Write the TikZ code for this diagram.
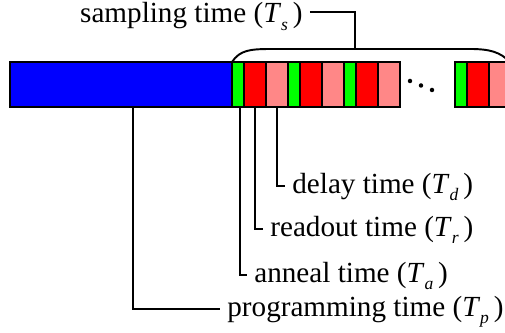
\documentclass[tikz,border=0pt]{standalone}
\usepackage{fontspec}
\setmainfont{Liberation Serif}
\usepackage{xcolor}
\usetikzlibrary{positioning}
\definecolor{progblue}{rgb}{0.0,0.0,1.0}
\definecolor{annealgreen}{rgb}{0.0,1.0,0.0}
\definecolor{readoutred}{rgb}{1.0,0.0,0.0}
\definecolor{delaypink}{rgb}{1.0,0.53,0.53}
\newcommand{\Tsub}[1]{\textit{T}\raisebox{-0.55ex}{\fontsize{10}{12}\selectfont\textit{#1}}\,}

\begin{document}
\begin{tikzpicture}[x=0.02cm,y=-0.02cm,
seg/.style={draw=black, line width=1pt, minimum height=0.9cm, inner sep=0pt, outer sep=0pt},
lbl/.style={font=\fontsize{16.6}{19}\selectfont, inner sep=4pt, text height=11.6pt, text depth=3pt},
wire/.style={line width=1.1pt}]
\clip (0,0) rectangle (505,333);
\node[seg, fill=progblue, minimum width=4.44cm, anchor=west] (prog) at (10,84.5) {};
\foreach \i/\x in {1/232,2/288,3/344,4/455} {
  \node[seg, fill=annealgreen, minimum width=0.24cm, anchor=west] (ann\i) at (\x,84.5) {};
  \node[seg, fill=readoutred, minimum width=0.44cm, right=0pt of ann\i] (rd\i) {};
  \node[seg, fill=delaypink, minimum width=0.44cm, right=0pt of rd\i] (dl\i) {};
}
\draw[line width=1.2pt] (prog.north west) rectangle (dl3.south east);
\foreach \d/\x/\y in {1/410/81,2/421/85.5,3/432/90} {
  \fill (\x,\y) circle (0.045cm) coordinate (dot\d);
}
\coordinate (braceL) at (ann1.north west);
\coordinate (braceR) at (510,62);
\coordinate (braceTop) at (355,49);
\draw[wire] (braceL) .. controls (240,50) and (250,49) .. (272,49) -- (470,49) .. controls (490,49) and (500,52) .. (braceR);
\node[lbl, anchor=east, text height=13pt, text depth=0.6pt] (samp) at (310,12) {sampling time (\Tsub{s})};
\draw[wire] (samp.east) -| (braceTop);
\node[lbl, anchor=west] (delayLbl) at (285,186) {delay time (\Tsub{d})};
\node[lbl, anchor=west] (readLbl) at (263,229) {readout time (\Tsub{r})};
\node[lbl, anchor=west] (annLbl) at (247,275) {anneal time (\Tsub{a})};
\node[lbl, anchor=west] (progLbl) at (220,309) {programming time (\Tsub{p})};
\draw[wire] (dl1.south) |- (delayLbl.west);
\draw[wire] (rd1.south) |- (readLbl.west);
\draw[wire] ([xshift=0.04cm]ann1.south) |- (annLbl.west);
\draw[wire] ([xshift=0.24cm]prog.south) |- (progLbl.west);
\end{tikzpicture}
\end{document}
